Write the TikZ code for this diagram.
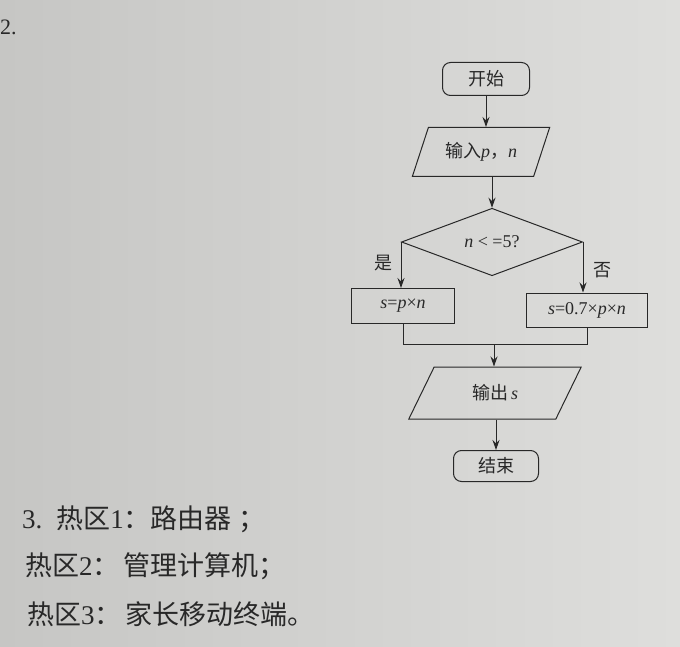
\documentclass[tikz,border=0pt]{standalone}
\usepackage{fontspec}
\setmainfont{Liberation Serif}
\newfontfamily\cjk{Noto Sans CJK SC}
\usetikzlibrary{shapes.geometric,arrows.meta}
\definecolor{paperL}{RGB}{198,198,196}
\definecolor{paperR}{RGB}{222,222,220}
\definecolor{inkc}{RGB}{40,40,40}
\begin{document}
\begin{tikzpicture}[x=1pt,y=-1pt,
  ink/.style={draw=inkc, line width=1pt},
  fc/.style={font=\fontsize{18}{18}\selectfont, text=inkc},
  term/.style={ink, fc, rectangle, rounded corners=8pt, inner sep=0pt},
  io/.style={ink, fc, trapezium, trapezium left angle=60, trapezium right angle=120, trapezium stretches=true, inner sep=0pt},
  proc/.style={ink, fc, rectangle, inner sep=0pt},
  dec/.style={ink, fc, diamond, inner sep=0pt},
  arr/.style={ink, -{Stealth[length=10pt,width=7pt]}},
  lbl/.style={font=\cjk\fontsize{18}{18}\selectfont, text=inkc},
  para/.style={anchor=west, inner sep=0pt, text=inkc, font=\fontsize{27}{27}\selectfont}]
\useasboundingbox (0,0) rectangle (680,647);
\clip (0,0) rectangle (680,647);
\shade[left color=paperL, right color=paperR] (0,0) rectangle (680,647);

\node[para, font=\fontsize{22}{22}\selectfont] (num2) at (0,27) {2.};

\node[term, minimum width=87pt, minimum height=33pt] (start) at (486,79) {\cjk 开始};
\node[io, minimum width=138pt, minimum height=49pt] (inp) at (481,152) {{\cjk 输入}\textit{p}{\cjk ，}\textit{n}};
\node[dec, minimum width=181pt, minimum height=65pt] (dia) at (492,242) {\textit{n} < =5?};
\node[proc, minimum width=103pt, minimum height=35pt] (lbox) at (403,306) {\textit{s}=\textit{p}×\textit{n}};
\node[proc, minimum width=121pt, minimum height=34pt] (rbox) at (587,310) {\textit{s}=0.7×\textit{p}×\textit{n}};
\coordinate (m) at (494,344);
\node[io, minimum width=173pt, minimum height=52pt] (out) at (495,393) {{\cjk 输出}\,\textit{s}};
\node[term, minimum width=85pt, minimum height=31pt] (stop) at (496,466) {\cjk 结束};

\draw[arr] (start.south) -- (start.south |- inp.north);
\draw[arr] (inp.south -| dia.north) -- (dia.north);
\draw[arr] (dia.west) -- (dia.west |- lbox.north);
\draw[arr] (dia.east) -- (dia.east |- rbox.north);
\node[lbl] (yes) at (383,263) {是};
\node[lbl] (no) at (602,270) {否};
\draw[ink] (lbox.south) -- (lbox.south |- m) -- (rbox.south |- m) -- (rbox.south);
\draw[arr] (m) -- (m |- out.north);
\draw[arr] (out.south -| stop.north) -- (stop.north);

\node[para] (l1) at (22,519) {3.\hspace{14pt}{\cjk 热区}1{\cjk ：路由器} {\cjk ；}};
\node[para] (l2) at (25,566) {{\cjk 热区}2{\cjk ：}\hspace{4pt}{\cjk 管理计算机；}};
\node[para] (l3) at (27,614) {{\cjk 热区}3{\cjk ：}\hspace{4pt}{\cjk 家长移动终端。}};
\end{tikzpicture}
\end{document}
